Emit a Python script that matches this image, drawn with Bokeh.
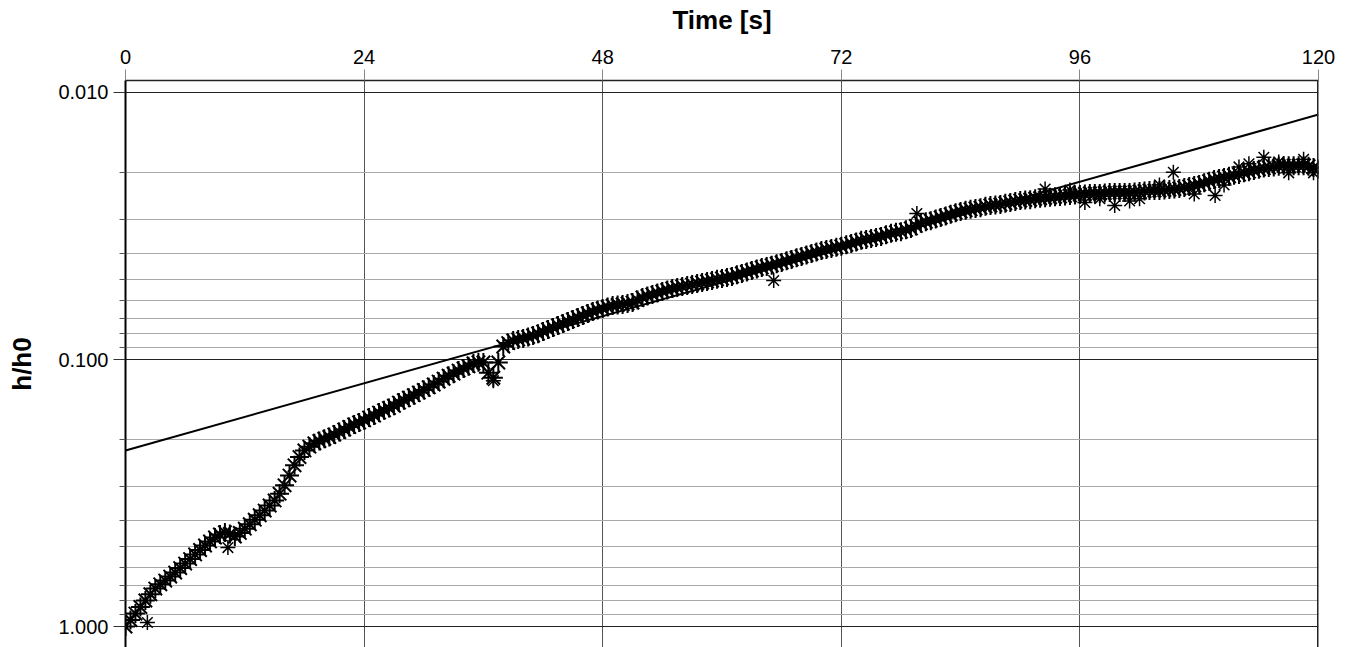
from bokeh.plotting import figure
from bokeh.models import Range1d, FixedTicker, PrintfTickFormatter, Span, ColumnDataSource
from bokeh.embed import file_html
from bokeh.resources import INLINE

# measured data: time [s] and h/h0 (readings at whole seconds)
time_s = [0, 1, 2, 3, 4, 5, 6, 7, 8, 9, 10, 11, 12, 13, 14, 15, 16, 17, 18, 19,
          20, 21, 22, 23, 24, 25, 26, 27, 28, 29, 30, 31, 32, 33, 34, 35, 36, 36.5, 37, 37.5,
          38, 39, 40, 41, 42, 43, 44, 45, 46, 47, 48, 49, 50, 51, 52, 53, 54, 55, 56, 57,
          58, 59, 60, 61, 62, 63, 64, 65, 66, 67, 68, 69, 70, 71, 72, 73, 74, 75, 76, 77,
          78, 79, 80, 81, 82, 83, 84, 85, 86, 87, 88, 89, 90, 91, 92, 93, 94, 95, 96, 97,
          98, 99, 100, 101, 102, 103, 104, 105, 106, 107, 108, 109, 110, 111, 112, 113, 114, 115, 116, 117,
          118, 119, 120]
h_ratio = [1.000, 0.894, 0.799, 0.721, 0.673, 0.628, 0.581, 0.537, 0.497, 0.464, 0.444, 0.460, 0.430, 0.398, 0.368, 0.337, 0.296, 0.249, 0.219, 0.206,
           0.198, 0.191, 0.183, 0.175, 0.169, 0.162, 0.155, 0.149, 0.142, 0.136, 0.130, 0.124, 0.118, 0.113, 0.108, 0.1035, 0.1026, 0.112, 0.117, 0.1026,
           0.0894, 0.0849, 0.0834, 0.0813, 0.0786, 0.0759, 0.0733, 0.0708, 0.0684, 0.0661, 0.0644, 0.0628, 0.0622, 0.0612, 0.0586, 0.0571, 0.0556, 0.0542, 0.0533, 0.0524,
           0.0515, 0.0506, 0.0497, 0.0489, 0.0476, 0.0464, 0.0452, 0.0444, 0.0433, 0.0422, 0.0411, 0.0401, 0.0391, 0.0384, 0.0377, 0.0368, 0.0358, 0.0352, 0.0346, 0.0337,
           0.0332, 0.0323, 0.0309, 0.0302, 0.0294, 0.0286, 0.0279, 0.0274, 0.0270, 0.0265, 0.0263, 0.0258, 0.0254, 0.0252, 0.0249, 0.0247, 0.0245, 0.0243, 0.0241, 0.0239,
           0.0239, 0.0237, 0.0237, 0.0237, 0.0235, 0.0233, 0.0233, 0.0231, 0.0229, 0.0225, 0.0221, 0.0215, 0.0210, 0.0206, 0.0203, 0.0198, 0.0194, 0.0191, 0.0189, 0.0188,
           0.0188, 0.0189, 0.0193]

# readings at half seconds
time_half = [0.5, 1.5, 2.5, 3.5, 4.5, 5.5, 6.5, 7.5, 8.5, 9.5, 10.5, 11.5, 12.5, 13.5, 14.5, 15.5, 16.5, 17.5, 18.5, 19.5,
             20.5, 21.5, 22.5, 23.5, 24.5, 25.5, 26.5, 27.5, 28.5, 29.5, 30.5, 31.5, 32.5, 33.5, 34.5, 35.5,
             38.5, 39.5, 40.5, 41.5, 42.5, 43.5, 44.5, 45.5, 46.5, 47.5, 48.5, 49.5, 50.5, 51.5, 52.5, 53.5, 54.5, 55.5, 56.5, 57.5,
             58.5, 59.5, 60.5, 61.5, 62.5, 63.5, 64.5, 65.5, 66.5, 67.5, 68.5, 69.5, 70.5, 71.5, 72.5, 73.5, 74.5, 75.5, 76.5, 77.5,
             78.5, 79.5, 80.5, 81.5, 82.5, 83.5, 84.5, 85.5, 86.5, 87.5, 88.5, 89.5, 90.5, 91.5, 92.5, 93.5, 94.5, 95.5, 96.5, 97.5,
             98.5, 99.5, 100.5, 101.5, 102.5, 103.5, 104.5, 105.5, 106.5, 107.5, 108.5, 109.5, 110.5, 111.5, 112.5, 113.5, 114.5, 115.5, 116.5, 117.5,
             118.5, 119.5]
h_half = [0.945, 0.845, 0.757, 0.695, 0.650, 0.604, 0.559, 0.517, 0.480, 0.452, 0.450, 0.446, 0.414, 0.383, 0.352, 0.318, 0.272, 0.232, 0.212, 0.202,
          0.195, 0.187, 0.179, 0.172, 0.165, 0.158, 0.152, 0.145, 0.139, 0.133, 0.127, 0.121, 0.115, 0.110, 0.106, 0.1025,
          0.0868, 0.0841, 0.0823, 0.0800, 0.0772, 0.0746, 0.0720, 0.0696, 0.0672, 0.0652, 0.0636, 0.0625, 0.0617, 0.0599, 0.0578, 0.0563, 0.0549, 0.0537, 0.0528, 0.0519,
          0.0510, 0.0501, 0.0493, 0.0482, 0.0470, 0.0458, 0.0448, 0.0438, 0.0427, 0.0416, 0.0406, 0.0396, 0.0387, 0.0380, 0.0372, 0.0363, 0.0355, 0.0349, 0.0341, 0.0334,
          0.0327, 0.0316, 0.0305, 0.0298, 0.0290, 0.0282, 0.0276, 0.0272, 0.0267, 0.0264, 0.0260, 0.0256, 0.0253, 0.0250, 0.0248, 0.0246, 0.0244, 0.0242, 0.0240, 0.0239,
          0.0238, 0.0237, 0.0237, 0.0236, 0.0234, 0.0233, 0.0232, 0.0230, 0.0227, 0.0223, 0.0218, 0.0212, 0.0208, 0.0204, 0.0200, 0.0196, 0.0192, 0.0190, 0.0188, 0.0188,
          0.0188, 0.0191]

# scattered individual readings
extra_t = [2.2, 10.3, 37.0, 65.2, 79.6, 92.5, 95.0, 96.5, 98.0, 99.5, 101.0, 102.0, 104.0, 105.4, 107.5, 109.6, 110.5,
           112.0, 113.0, 114.5, 116.0, 117.0, 118.5, 119.5]
extra_h = [0.966, 0.506, 0.120, 0.0506, 0.0284, 0.0230, 0.0232, 0.0258, 0.0250, 0.0265, 0.0255, 0.0250, 0.0222, 0.0199, 0.0240, 0.0243, 0.0222,
           0.0190, 0.0185, 0.0175, 0.0182, 0.0200, 0.0178, 0.0200]

# fitted line end points
fit_t = [0, 120]
fit_h = [0.219, 0.0121]

x_ticks = [0, 24, 48, 72, 96, 120]
y_ticks = [0.01, 0.1, 1.0]
y_minor = [0.02, 0.03, 0.04, 0.05, 0.06, 0.07, 0.08, 0.09,
           0.2, 0.3, 0.4, 0.5, 0.6, 0.7, 0.8, 0.9]

FONT = "Liberation Sans"

p = figure(width=1343, height=647, x_axis_location="above", y_axis_type="log",
           x_range=Range1d(0, 120), y_range=Range1d(1.198, 0.00902),
           output_backend="svg", toolbar_location=None,
           min_border_left=125, min_border_right=25, min_border_top=80, min_border_bottom=0)
p.outline_line_color = None
p.background_fill_color = "white"

xa = p.xaxis[0]
xa.ticker = FixedTicker(ticks=x_ticks)
xa.axis_label = "Time [s]"
xa.axis_label_text_font = FONT
xa.axis_label_text_font_style = "bold"
xa.axis_label_text_font_size = "26px"
xa.axis_label_text_color = "black"
xa.axis_label_standoff = 12
xa.major_label_text_font = FONT
xa.major_label_text_font_size = "20px"
xa.major_label_text_color = "black"
xa.major_label_standoff = 6
xa.major_tick_out = 11
xa.major_tick_in = 0
xa.minor_tick_out = 0
xa.minor_tick_in = 0
xa.major_tick_line_color = "#888888"
xa.axis_line_color = "#222222"
xa.axis_line_width = 1.5

ya = p.yaxis[0]
ya.ticker = FixedTicker(ticks=y_ticks, minor_ticks=y_minor)
ya.formatter = PrintfTickFormatter(format="%.3f")
ya.axis_label = "h/h0"
ya.axis_label_text_font = FONT
ya.axis_label_text_font_style = "bold"
ya.axis_label_text_font_size = "26px"
ya.axis_label_text_color = "black"
ya.axis_label_standoff = 18
ya.major_label_text_font = FONT
ya.major_label_text_font_size = "20px"
ya.major_label_text_color = "black"
ya.major_label_standoff = 5
ya.major_tick_out = 12
ya.major_tick_in = 0
ya.minor_tick_out = 6
ya.minor_tick_in = 0
ya.major_tick_line_color = "#333333"
ya.minor_tick_line_color = "#555555"
ya.axis_line_color = "black"
ya.axis_line_width = 2

p.xgrid.ticker = FixedTicker(ticks=x_ticks)
p.xgrid.grid_line_color = "#555555"
p.xgrid.grid_line_width = 1
p.ygrid.ticker = FixedTicker(ticks=y_ticks, minor_ticks=y_minor)
p.ygrid.grid_line_color = "#222222"
p.ygrid.grid_line_width = 1
p.ygrid.minor_grid_line_color = "#aaaaaa"
p.ygrid.minor_grid_line_width = 1

p.add_layout(Span(location=120, dimension="height", line_color="#222222", line_width=3))

src = ColumnDataSource(dict(t=time_s, h=h_ratio))
p.scatter("t", "h", source=src, marker="asterisk", size=19, line_color="black", line_width=2)
p.scatter(time_half, h_half, marker="asterisk", size=19, line_color="black", line_width=2)
p.scatter(extra_t, extra_h, marker="asterisk", size=15, line_color="black", line_width=1.5)
p.line(fit_t, fit_h, line_color="black", line_width=2)

open("out.html", "w").write(file_html(p, INLINE))
